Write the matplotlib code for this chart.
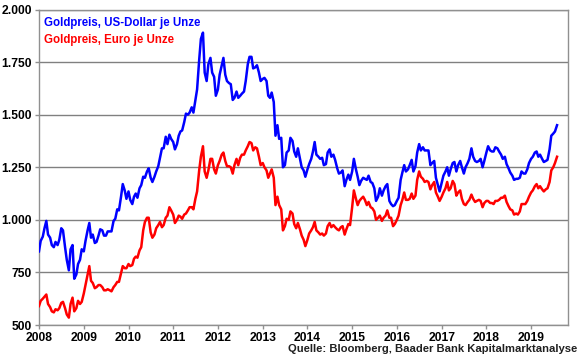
import matplotlib
matplotlib.use("Agg")
import matplotlib.pyplot as plt
import matplotlib.dates as mdates
from matplotlib.ticker import FuncFormatter, MultipleLocator
import pandas as pd

plt.rcParams["font.family"] = ["Liberation Sans", "DejaVu Sans"]

# semi-monthly readings (1st and 15th of month), Jan 2008 .. Aug 2019
usd = [
    850, 900, 920, 960, 995, 930, 915, 880, 870, 895, 880, 905,       # 2008
    960, 950, 870, 810, 760, 860, 880, 720, 740, 790, 810, 860,
    850, 900, 950, 985, 915, 930, 890, 895, 925, 955, 950, 925,       # 2009
    925, 945, 945, 945, 995, 1005, 1050, 1045, 1110, 1170, 1140, 1100,
    1135, 1095, 1075, 1110, 1125, 1105, 1150, 1165, 1205, 1200, 1230, 1245,  # 2010
    1200, 1180, 1205, 1230, 1255, 1295, 1340, 1340, 1395, 1360, 1405, 1385,
    1370, 1335, 1360, 1400, 1420, 1425, 1465, 1505, 1500, 1510, 1535, 1510,  # 2011
    1570, 1620, 1760, 1860, 1890, 1700, 1660, 1740, 1770, 1700, 1680, 1590,
    1620, 1690, 1735, 1770, 1690, 1660, 1650, 1645, 1570, 1580, 1610, 1580,  # 2012
    1590, 1600, 1610, 1660, 1740, 1775, 1775, 1720, 1725, 1735, 1700, 1660,
    1670, 1675, 1660, 1590, 1580, 1605, 1560, 1400, 1450, 1385, 1390, 1250,  # 2013
    1260, 1320, 1330, 1390, 1375, 1325, 1300, 1340, 1290, 1250, 1235, 1205,
    1240, 1265, 1290, 1325, 1370, 1310, 1300, 1290, 1295, 1260, 1265, 1320,  # 2014
    1335, 1300, 1310, 1285, 1245, 1220, 1225, 1235, 1160, 1190, 1215, 1190,
    1230, 1290, 1240, 1205, 1165, 1185, 1200, 1195, 1190, 1210, 1180, 1175,  # 2015
    1150, 1090, 1110, 1150, 1115, 1140, 1160, 1170, 1090, 1075, 1065, 1070,
    1090, 1105, 1190, 1225, 1260, 1230, 1240, 1260, 1285, 1230, 1255, 1320,  # 2016
    1360, 1330, 1345, 1330, 1330, 1330, 1260, 1270, 1280, 1200, 1165, 1135,
    1175, 1210, 1230, 1250, 1210, 1240, 1270, 1275, 1230, 1260, 1280, 1250,  # 2017
    1220, 1250, 1270, 1290, 1340, 1300, 1280, 1275, 1280, 1290, 1250, 1280,
    1320, 1350, 1330, 1325, 1325, 1345, 1340, 1325, 1310, 1290, 1300, 1265,  # 2018
    1245, 1225, 1210, 1190, 1195, 1195, 1200, 1230, 1220, 1220, 1240, 1270,
    1290, 1300, 1320, 1325, 1300, 1310, 1290, 1275, 1280, 1285, 1335, 1400,  # 2019
    1410, 1420, 1450,
]

eur = [
    590, 615, 625, 635, 645, 600, 585, 565, 560, 575, 570, 580,       # 2008
    605, 610, 580, 550, 535, 600, 630, 565, 580, 615, 600, 610,
    650, 690, 740, 780, 710, 700, 675, 680, 690, 690, 680, 665,       # 2009
    665, 670, 665, 660, 680, 690, 705, 705, 745, 780, 770, 770,
    790, 780, 785, 815, 825, 820, 855, 870, 950, 990, 1010, 1010,     # 2010
    940, 915, 930, 960, 975, 990, 965, 975, 1010, 1020, 1060, 1045,
    1025, 985, 1000, 1020, 1015, 1005, 1025, 1030, 1045, 1060, 1060, 1050,  # 2011
    1100, 1135, 1235, 1300, 1350, 1230, 1200, 1235, 1290, 1290, 1240, 1220,
    1260, 1280, 1310, 1320, 1280, 1255, 1255, 1250, 1220, 1260, 1290, 1260,  # 2012
    1295, 1310, 1310, 1330, 1350, 1370, 1365, 1330, 1345, 1340, 1300, 1260,
    1270, 1250, 1235, 1200, 1220, 1240, 1200, 1070, 1110, 1070, 1050, 950,  # 2013
    970, 1005, 1000, 1040, 1030, 980, 960, 985, 955, 925, 905, 875,
    905, 935, 950, 965, 990, 950, 940, 930, 935, 925, 935, 970,       # 2014
    985, 965, 975, 965, 955, 950, 965, 970, 930, 955, 980, 975,
    1060, 1140, 1100, 1070, 1090, 1100, 1110, 1095, 1070, 1085, 1060, 1055,  # 2015
    1040, 1000, 1010, 1020, 995, 1010, 1020, 1045, 1010, 1010, 970, 980,
    1000, 1020, 1070, 1095, 1130, 1095, 1095, 1100, 1125, 1100, 1115, 1190,  # 2016
    1230, 1205, 1195, 1180, 1185, 1180, 1145, 1165, 1180, 1130, 1110, 1090,
    1110, 1130, 1150, 1180, 1140, 1150, 1185, 1170, 1115, 1130, 1140, 1100,  # 2017
    1075, 1070, 1085, 1095, 1120, 1100, 1085, 1090, 1095, 1090, 1060, 1080,
    1090, 1090, 1080, 1080, 1075, 1090, 1090, 1095, 1105, 1105, 1115, 1085,  # 2018
    1065, 1050, 1045, 1025, 1030, 1025, 1040, 1075, 1075, 1075, 1090, 1110,
    1130, 1140, 1160, 1170, 1150, 1160, 1145, 1135, 1145, 1150, 1180, 1235,  # 2019
    1250, 1270, 1300,
]

usd_label = "Goldpreis, US-Dollar je Unze"
eur_label = "Goldpreis, Euro je Unze"
source = "Quelle: Bloomberg, Baader Bank Kapitalmarktanalyse"

dates = pd.date_range("2008-01-01", periods=len(usd), freq="SMS")

fig = plt.figure(figsize=(5.8, 3.59), dpi=100)
ax = fig.add_axes([0.0672, 0.0947, 0.9116, 0.8788])

ax.plot(dates, usd, color="#0000ff", lw=1.8, zorder=3)
ax.plot(dates, eur, color="#ff0000", lw=1.8, zorder=3)

ax.set_ylim(500, 2000)
ax.set_xlim(pd.Timestamp("2008-01-01"), pd.Timestamp("2019-10-27"))
ax.yaxis.set_major_locator(MultipleLocator(250))
ax.yaxis.set_major_formatter(FuncFormatter(lambda v, p: f"{v:,.0f}".replace(",", ".")))
ax.xaxis.set_major_locator(mdates.YearLocator())
ax.xaxis.set_major_formatter(mdates.DateFormatter("%Y"))
ax.grid(axis="y", color="#808080", lw=1.0, zorder=1)

for s in ax.spines.values():
    s.set_color("#909090")
    s.set_linewidth(1.0)
ax.tick_params(axis="both", colors="#909090", length=3, width=1.0, labelcolor="black",
               labelsize=8.7, pad=2)
for lbl in ax.get_xticklabels() + ax.get_yticklabels():
    lbl.set_fontweight("bold")

ax.text(0.009, 0.957, usd_label, transform=ax.transAxes, color="#0000ff",
        fontsize=8.3, fontweight="bold", va="center", ha="left")
ax.text(0.009, 0.902, eur_label, transform=ax.transAxes, color="#ff0000",
        fontsize=8.3, fontweight="bold", va="center", ha="left")

fig.text(0.995, 0.028, source, color="#202020", fontsize=8.1, fontweight="bold",
         ha="right", va="center")

fig.savefig("out.png", dpi=100)
